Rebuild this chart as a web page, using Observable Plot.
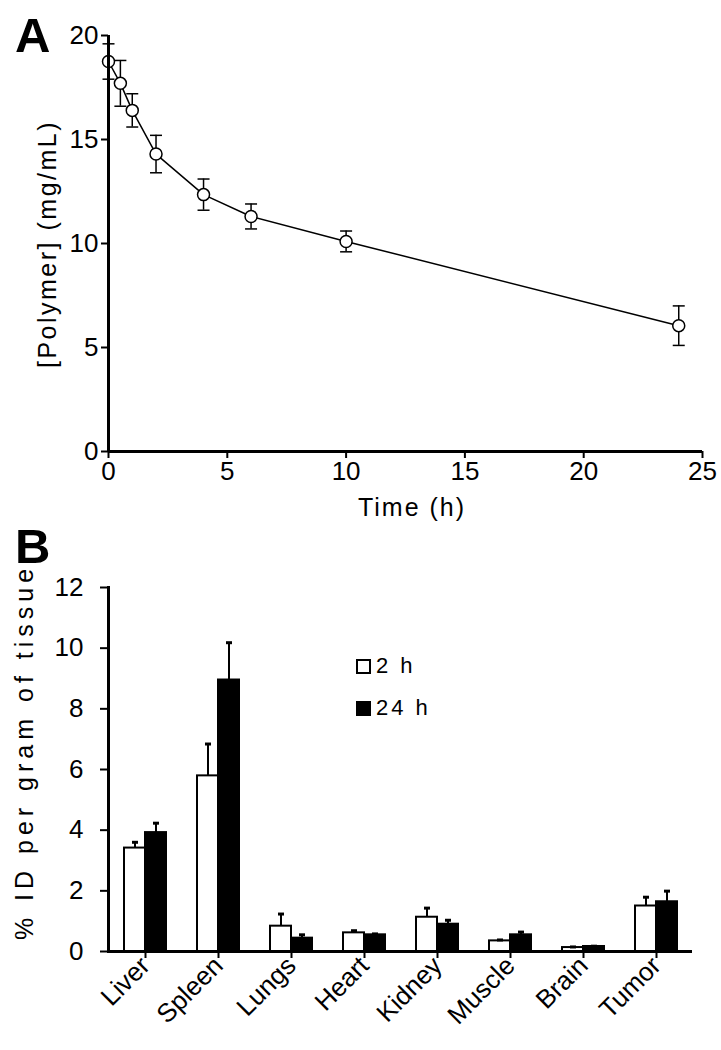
<!DOCTYPE html>
<html>
<head>
<meta charset="utf-8">
<script src="https://cdn.jsdelivr.net/npm/d3@7"></script>
<script src="https://cdn.jsdelivr.net/npm/@observablehq/plot@0.6"></script>
<style>
  html, body { margin: 0; padding: 0; background: white; }
  #wrap { position: relative; width: 721px; height: 1050px; font-family: 'Liberation Sans', Arial, sans-serif; color: black; }
  #wrap svg { display: block; }
  .lbl { position: absolute; white-space: nowrap; line-height: 1; }
  .panel { font-weight: bold; font-size: 49px; }
  .ax { font-size: 25px; }
  .leg { position: absolute; left: 356px; display: flex; align-items: center; font-size: 22px; letter-spacing: 3px; line-height: 1; }
  .sw { width: 11px; height: 11px; border: 2.5px solid black; margin-right: 5px; }
</style>
</head>
<body>
<div id="wrap">
  <div id="a"></div>
  <div id="b"></div>
  <div class="lbl panel" style="left:15px; top:11px;">A</div>
  <div class="lbl panel" style="left:15px; top:522px;">B</div>
  <div class="lbl ax" style="left:412px; top:495px; transform:translateX(-50%); letter-spacing:2px;">Time (h)</div>
  <div class="lbl ax" style="left:47px; top:244px; transform:translate(-50%,-50%) rotate(-90deg); letter-spacing:2.5px;">[Polymer] (mg/mL)</div>
  <div class="lbl ax" style="left:24px; top:752px; transform:translate(-50%,-50%) rotate(-90deg); letter-spacing:5px;">% ID per gram of tissue</div>
  <div class="leg" style="top:655px;"><div class="sw" style="background:white"></div><span>2 h</span></div>
  <div class="leg" style="top:697px;"><div class="sw" style="background:black"></div><span>24 h</span></div>
</div>
<script>
// ---- Panel A data ----
const times = [0, 0.5, 1, 2, 4, 6, 10, 24];
const conc = [18.75, 17.7, 16.4, 14.3, 12.35, 11.3, 10.1, 6.05];
const concErr = [0.85, 1.1, 0.8, 0.9, 0.75, 0.6, 0.5, 0.95];
const xTicksA = [0, 5, 10, 15, 20, 25];
const yTicksA = [0, 5, 10, 15, 20];

// ---- Panel B data ----
const organs = ["Liver", "Spleen", "Lungs", "Heart", "Kidney", "Muscle", "Brain", "Tumor"];
const id2h = [3.41, 5.79, 0.835, 0.615, 1.13, 0.35, 0.13, 1.5];
const err2h = [0.19, 1.05, 0.4, 0.07, 0.3, 0.03, 0.02, 0.29];
const id24h = [3.92, 8.95, 0.44, 0.55, 0.9, 0.55, 0.165, 1.64];
const err24h = [0.31, 1.23, 0.11, 0.03, 0.13, 0.09, 0.01, 0.35];
const yTicksB = [0, 2, 4, 6, 8, 10, 12];

const dataA = times.map((t, i) => ({t, c: conc[i], e: concErr[i]}));
const dataB = organs.map((o, i) => ({organ: o, v2: id2h[i], e2: err2h[i], v24: id24h[i], e24: err24h[i]}));

// font availability check for a condensed face
function hasFont(name) {
  const ctx = document.createElement("canvas").getContext("2d");
  const s = "0123456789 abcdefgh";
  ctx.font = "40px monospace"; const w1 = ctx.measureText(s).width;
  ctx.font = `40px '${name}', monospace`; const w2 = ctx.measureText(s).width;
  return Math.abs(w1 - w2) > 0.5;
}
const narrowOK = hasFont("Liberation Sans Narrow");
const tickFamily = narrowOK ? "'Liberation Sans Narrow', 'Liberation Sans', Arial, sans-serif" : "'Liberation Sans', Arial, sans-serif";
const tickSize = narrowOK ? "28px" : "26px";

const capSymbol = {draw(context, size) { const w = Math.sqrt(size / Math.PI); context.moveTo(-w, 0); context.lineTo(w, 0); }};

const baseStyle = {fontFamily: "'Liberation Sans', Arial, sans-serif", fontSize: "25px", color: "black", background: "white", overflow: "visible"};

const plotA = Plot.plot({
  width: 721, height: 530,
  marginTop: 35, marginBottom: 79, marginLeft: 108, marginRight: 19,
  style: baseStyle,
  x: {domain: [0, 25]},
  y: {domain: [0, 20]},
  marks: [
    Plot.axisX({ticks: xTicksA, tickSize: 7, tickPadding: 3, strokeWidth: 2, label: null}),
    Plot.axisY({ticks: yTicksA, tickSize: 7, tickPadding: 3, strokeWidth: 2, label: null}),
    Plot.line(dataA, {x: "t", y: "c", stroke: "black", strokeWidth: 1.5}),
    Plot.ruleX(dataA, {x: "t", y1: d => d.c - d.e, y2: d => d.c + d.e, stroke: "black", strokeWidth: 1.5}),
    Plot.dot(dataA, {x: "t", y: d => d.c + d.e, symbol: capSymbol, r: 6, fill: "none", stroke: "black", strokeWidth: 1.5}),
    Plot.dot(dataA, {x: "t", y: d => d.c - d.e, symbol: capSymbol, r: 6, fill: "none", stroke: "black", strokeWidth: 1.5}),
    Plot.dot(dataA, {x: "t", y: "c", r: 6, fill: "white", stroke: "black", strokeWidth: 1.5}),
    Plot.ruleX([0], {stroke: "black", strokeWidth: 3}),
    Plot.ruleY([0], {stroke: "black", strokeWidth: 3})
  ]
});
document.getElementById("a").appendChild(plotA);
d3.select(plotA).selectAll("text").style("font-family", tickFamily).style("font-size", tickSize);

const half = 10.5;
const plotB = Plot.plot({
  width: 721, height: 520,
  marginTop: 57, marginBottom: 99, marginLeft: 108, marginRight: 29,
  style: baseStyle,
  x: {domain: organs, paddingInner: 0.425, paddingOuter: 0.2125},
  y: {domain: [0, 12]},
  marks: [
    Plot.barY(dataB, {x: "organ", y: "v2", fill: "white", stroke: "black", strokeWidth: 2, insetRight: 21}),
    Plot.barY(dataB, {x: "organ", y: "v24", fill: "black", stroke: "black", strokeWidth: 2, insetLeft: 21}),
    Plot.ruleX(dataB, {x: "organ", y1: "v2", y2: d => d.v2 + d.e2, dx: -half, stroke: "black", strokeWidth: 2}),
    Plot.ruleX(dataB, {x: "organ", y1: "v24", y2: d => d.v24 + d.e24, dx: half, stroke: "black", strokeWidth: 2}),
    Plot.dot(dataB, {x: "organ", y: d => d.v2 + d.e2, dx: -half, symbol: capSymbol, r: 3, fill: "none", stroke: "black", strokeWidth: 3}),
    Plot.dot(dataB, {x: "organ", y: d => d.v24 + d.e24, dx: half, symbol: capSymbol, r: 3, fill: "none", stroke: "black", strokeWidth: 3}),
    Plot.axisX({tickSize: 7, tickPadding: 3, strokeWidth: 2, tickRotate: -45, label: null}),
    Plot.axisY({ticks: yTicksB, tickSize: 8, tickFormat: () => "", strokeWidth: 2, label: null}),
    Plot.axisY({ticks: yTicksB, tickSize: 0, tickPadding: 0, dx: -25, label: null}),
    Plot.frame({anchor: "left", stroke: "black", strokeWidth: 3}),
    Plot.ruleY([0], {stroke: "black", strokeWidth: 3})
  ]
});
document.getElementById("b").appendChild(plotB);
d3.select(plotB).selectAll("text").each(function() {
  const t = d3.select(this);
  if (organs.includes(t.text())) t.style("font-size", "26px");
  else t.style("font-family", tickFamily).style("font-size", tickSize);
});
d3.selectAll(".leg").style("font-family", tickFamily);
</script>
</body>
</html>
